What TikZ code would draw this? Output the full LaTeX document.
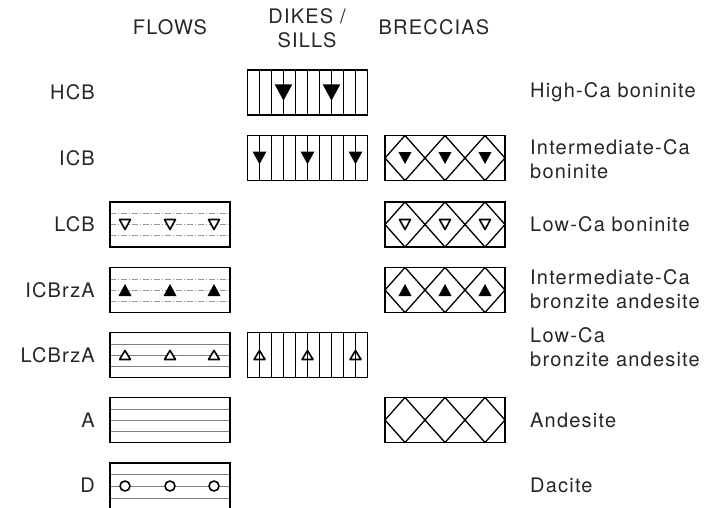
\documentclass[tikz,border=0pt]{standalone}
\usepackage{fontspec}
\setmainfont{TeX Gyre Heros}[LetterSpace=6]
\begin{document}
\begin{tikzpicture}[x=1pt,y=-1pt,
  boxline/.style={line width=1.6pt},
  hatch/.style={line width=1pt},
  fline/.style={line width=0.6pt, black!50},
  dline/.style={line width=0.6pt, black!40, dash pattern=on 6pt off 2pt on 1pt off 2pt},
  osym/.style={draw=black, line width=1.6pt, fill=white, line join=round},
  lab/.style={inner sep=0pt, text=black!85, font=\fontsize{20}{24}\selectfont},
  flowbox/.pic={\draw[boxline] (-60,-22.5) rectangle (60,22.5);},
  flows/.pic={\draw[fline] (-60,-11)--(60,-11) (-60,0)--(60,0) (-60,11)--(60,11);
              \draw[boxline] (-60,-22.5) rectangle (60,22.5);},
  dflows/.pic={\draw[dline] (-60,-11)--(60,-11) (-60,0)--(60,0) (-60,11)--(60,11);
              \draw[boxline] (-60,-22.5) rectangle (60,22.5);},
  dikes/.pic={\foreach \k in {1,...,9} \draw[hatch] (-60+12*\k,-22.5)--(-60+12*\k,22.5);
              \draw[boxline] (-60,-22.5) rectangle (60,22.5);},
  breccia/.pic={\draw[line width=1.3pt,line join=round] (-60,0)--(-40,-22.5)--(-20,0)--(0,-22.5)--(20,0)--(40,-22.5)--(60,0);
                \draw[line width=1.3pt,line join=round] (-60,0)--(-40,22.5)--(-20,0)--(0,22.5)--(20,0)--(40,22.5)--(60,0);
                \draw[boxline] (-60,-22.5) rectangle (60,22.5);},
  tdf/.pic={\fill (-6.5,-6)--(6.5,-6)--(0,6)--cycle;},
  tuf/.pic={\fill (-6.5,6)--(6.5,6)--(0,-6)--cycle;},
  tdo/.pic={\draw[osym] (-5.5,-5)--(5.5,-5)--(0,5)--cycle;},
  tuo/.pic={\draw[osym] (-5.5,4.5)--(5.5,4.5)--(0,-4.5)--cycle;},
  tuon/.pic={\draw[osym,fill=none] (-5.5,4.5)--(5.5,4.5)--(0,-4.5)--cycle;},
  circ/.pic={\draw[osym] (0,0) circle (5);},
]
\useasboundingbox (0,0) rectangle (710,507);

% headers
\node[lab] (hflows) at (170,27) {FLOWS};
\node[lab, align=center] (hdikes) at (307,28.5) {DIKES /\\SILLS};
\node[lab] (hbrec) at (434,27) {BRECCIAS};

% left labels
\node[lab, anchor=east] (lhcb) at (95,92.5) {HCB};
\node[lab, anchor=east] (licb) at (95,158) {ICB};
\node[lab, anchor=east] (llcb) at (95,224.5) {LCB};
\node[lab, anchor=east] (licbrza) at (95,290) {ICBrzA};
\node[lab, anchor=east] (llcbrza) at (95,355) {LCBrzA};
\node[lab, anchor=east] (la) at (95,420) {A};
\node[lab, anchor=east] (ld) at (95,485.5) {D};

% right labels
\node[lab, anchor=west] (rhcb) at (530,92.5) {High-Ca boninite};
\node[lab, anchor=west, align=left] (ricb) at (530,159.5) {Intermediate-Ca\\boninite};
\node[lab, anchor=west] (rlcb) at (530,224.5) {Low-Ca boninite};
\node[lab, anchor=west, align=left] (ricbrza) at (530,289.5) {Intermediate-Ca\\bronzite andesite};
\node[lab, anchor=west, align=left] (rlcbrza) at (530,347.5) {Low-Ca\\bronzite andesite};
\node[lab, anchor=west] (ra) at (530,420) {Andesite};
\node[lab, anchor=west] (rd) at (530,485.5) {Dacite};

% HCB
\pic at (307.5,92.5) {dikes};
\foreach \dx in {-24,24} \pic[scale=1.35] at (307.5+\dx,92.5) {tdf};

% ICB
\pic at (307.5,158) {dikes};
\foreach \dx in {-48,0,48} \pic[scale=1.05] at (307.5+\dx,158) {tdf};
\pic at (445,158) {breccia};
\foreach \dx in {-40,0,40} \pic at (445+\dx,158) {tdf};

% LCB
\pic at (170,224.5) {dflows};
\foreach \dx in {-45,0,44} \pic at (170+\dx,224.5) {tdo};
\pic at (445,224.5) {breccia};
\foreach \dx in {-40,0,40} \pic at (445+\dx,224.5) {tdo};

% ICBrzA
\pic at (170,290) {dflows};
\foreach \dx in {-45,0,44} \pic at (170+\dx,290) {tuf};
\pic at (445,290) {breccia};
\foreach \dx in {-40,0,40} \pic at (445+\dx,290) {tuf};

% LCBrzA
\pic at (170,355) {flows};
\foreach \dx in {-45,0,44} \pic at (170+\dx,355) {tuo};
\pic at (307.5,355) {dikes};
\foreach \dx in {-48,0,48} \pic at (307.5+\dx,355) {tuon};

% A
\pic at (170,420) {flows};
\pic at (445,420) {breccia};

% D (box runs off the bottom)
\draw[fline] (110,474)--(230,474) (110,486)--(230,486) (110,498)--(230,498);
\draw[boxline] (110,508)--(110,463)--(230,463)--(230,508);
\foreach \dx in {-45,0,44} \pic at (170+\dx,486) {circ};
\end{tikzpicture}
\end{document}
